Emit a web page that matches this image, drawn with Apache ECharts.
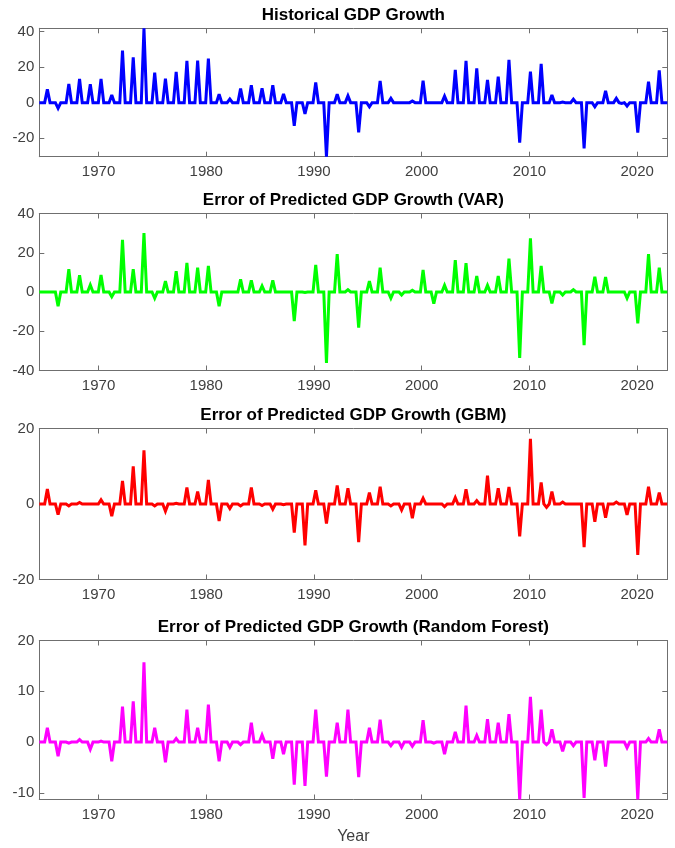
<!DOCTYPE html>
<html>
<head>
<meta charset="utf-8">
<title>GDP Growth and Prediction Errors</title>
<script src="https://cdn.jsdelivr.net/npm/echarts@6/dist/echarts.min.js"></script>
<style>
  html, body { margin: 0; padding: 0; background: #ffffff; }
  #chart { width: 675px; height: 848px; }
</style>
</head>
<body>
<div id="chart"></div>
<script>
// Quarterly observations (91-day steps) starting mid-1964.
const startYear = 1964.5;
const stepYears = 91 / 365.25;

const yearTicks = [1970, 1980, 1990, 2000, 2010, 2020];

const panelTitles = [
  'Historical GDP Growth',
  'Error of Predicted GDP Growth (VAR)',
  'Error of Predicted GDP Growth (GBM)',
  'Error of Predicted GDP Growth (Random Forest)'
];

// Historical GDP growth, one row per five years (four quarters each).
const gdpHistorical = [
  0, 0, 0,
  7.5, 0, 0, 0,   -3.2, 0, 0, 0,   10.5, 0, 0, 0,   13.3, 0, 0, 0,   10.3, 0, 0, 0,
  13.3, 0, 0, 0,  4.3, 0, 0, 0,    29.3, 0, 0, 0,   25.5, 0, 0, 0,   41.8, 0, 0, 0,
  16.9, 0, 0, 0,  13.5, 0, 0, 0,   17.3, 0, 0, 0,   23.5, 0, 0, 0,   23.7, 0, 0, 0,
  24.8, 0, 0, 0,  4.7, 0, 0, 0,    2.0, 0, 0, 0,    7.9, 0, 0, 0,    9.8, 0, 0, 0,
  8.1, 0, 0, 0,   9.8, 0, 0, 0,    4.9, 0, 0, 0,    -13.0, 0, 0, 0,  -6.4, 0, 0, 0,
  11.3, 0, 0, 0,  -30.4, 0, 0, 0,  4.7, 0, 0, 0,    3.8, 0, 0, 0,    -16.7, 0, 0, 0,
  -2.3, 0, 0, 0,  12.2, 0, 0, 0,   2.4, 0, 0, 0,    0, 0, 0, 0,      0.9, 0, 0, 0,
  12.4, 0, 0, 0,  0, 0, 0, 0,      3.6, 0, 0, 0,    18.4, 0, 0, 0,   23.5, 0, 0, 0,
  19.3, 0, 0, 0,  12.8, 0, 0, 0,   14.6, 0, 0, 0,   24.0, 0, 0, 0,   -22.5, 0, 0, 0,
  17.5, 0, 0, 0,  21.8, 0, 0, 0,   4.3, 0, 0, 0,    0.3, 0, 0, 0,    1.9, 0, 0, 0,
  -25.7, 0, 0, 0, -2.3, 0, 0, 0,   6.6, 0, 0, 0,    2.4, 0, -0.5, 0, -1.9, 0, 0, 0,
  -16.9, 0, 0, 0, 11.8, 0, 0, 0,   18.2, 0, 0, 0
];

// Prediction error, VAR model.
const errorVAR = [
  0, 0, 0,
  0, 0, 0, 0,     -7.2, 0, 0, 0,   11.6, 0, 0, 0,   8.5, 0, 0, 0,    3.6, 0, 0, 0,
  8.7, 0, 0, 0,   -2.4, 0, 0, 0,   26.6, 0, 0, 0,   11.6, 0, 0, 0,   30.0, 0, 0, 0,
  -3.2, 0, 0, 0,  5.5, 0, 0, 0,    10.6, 0, 0, 0,   14.8, 0, 0, 0,   12.4, 0, 0, 0,
  13.3, 0, 0, 0,  -7.2, 0, 0, 0,   0, 0, 0, 0,      6.5, 0, 0, 0,    6.0, 0, 0, 0,
  3.1, 0, 0, 0,   6.0, 0, 0, 0,    0, 0, 0, 0,      -14.8, 0, 0, 0,  -0.3, 0, 0, 0,
  13.8, 0, 0, 0,  -36.1, 0, 0, 0,  19.3, 0, 0, 0,   1.2, 0, 0, 0,    -18.2, 0, 0, 0,
  5.6, 0, 0, 0,   12.4, 0, 0, 0,   -3.2, 0, 0, 0,   -1.5, 0, 0, 0,   0.9, 0, 0, 0,
  11.2, 0, 0, 0,  -6.0, 0, 0, 0,   3.4, 0, 0, 0,    16.2, 0, 0, 0,   14.7, 0, 0, 0,
  8.2, 0, 0, 0,   3.4, 0, 0, 0,    8.2, 0, 0, 0,    17.0, 0, 0, 0,   -33.6, 0, 0, 0,
  27.4, 0, 0, 0,  13.3, 0, 0, 0,   -5.8, 0, 0, 0,   -1.5, 0, 0, 0,   1.2, 0, 0, 0,
  -27.1, 0, 0, 0, 7.8, 0, 0, 0,    7.7, 0, 0, 0,    0, 0, 0, 0,      -3.2, 0, 0, 0,
  -16.0, 0, 0, 0, 19.3, 0, 0, 0,   12.4, 0, 0, 0
];

// Prediction error, gradient boosting model.
const errorGBM = [
  0, 0, 0,
  4.0, 0, 0, 0,   -2.8, 0, 0, 0,   -0.5, 0, 0, 0,   0.4, 0, 0, 0,    0, 0, 0, 0,
  1.1, 0, 0, 0,   -3.2, 0, 0, 0,   6.1, 0, 0, 0,    10.0, 0, 0, 0,   14.2, 0, 0, 0,
  -0.5, 0, 0, 0,  -1.9, 0, 0, 0,   0.2, 0, 0, 0,    4.4, 0, 0, 0,    3.3, 0, 0, 0,
  6.4, 0, 0, 0,   -4.5, 0, 0, 0,   -1.2, 0, 0, 0,   -0.5, 0, 0, 0,   4.4, 0, 0, 0,
  -0.4, 0, 0, 0,  -1.4, 0, 0, 0,   -0.2, 0, 0, 0,   -7.6, 0, 0, 0,   -11.0, 0, 0, 0,
  3.6, 0, 0, 0,   -5.2, 0, 0, 0,   4.9, 0, 0, 0,    4.2, 0, 0, 0,    -10.1, 0, 0, 0,
  3.0, 0, 0, 0,   4.6, 0, 0, 0,    -0.5, 0, 0, 0,   -1.6, 0, 0, 0,   -3.8, 0, 0, 0,
  1.5, 0, 0, 0,   0, 0, 0, 0,      -0.7, 0, 0, 0,   1.7, 0, 0, 0,    3.9, 0, 0, 0,
  0.9, 0, 0, 0,   7.5, 0, 0, 0,    4.2, 0, 0, 0,    4.5, 0, 0, 0,    -8.6, 0, 0, 0,
  17.3, 0, 0, 0,  5.7, 0, -0.9, 0, 3.3, 0, 0, 0,    0.5, 0, 0, 0,    0, 0, 0, 0,
  -11.4, 0, 0, 0, -4.7, 0, 0, 0,   -3.6, 0, 0, 0,   0.5, 0, 0, 0,    -2.9, 0, 0, 0,
  -13.5, 0, 0, 0, 4.6, 0, 0, 0,    3.0, 0, 0, 0
];

// Prediction error, random forest model.
const errorRF = [
  0, 0, 0,
  2.8, 0, 0, 0,   -2.8, 0, 0, 0,   -0.2, 0, 0, 0,   0.5, 0, 0, 0,    -1.4, 0, 0, 0,
  0.2, 0, 0, 0,   -3.8, 0, 0, 0,   7.0, 0, 0, 0,    8.0, 0, 0, 0,    15.7, 0, 0, 0,
  2.8, 0, 0, 0,   -4.0, 0, 0, 0,   0.7, 0, 0, 0,    6.4, 0, 0, 0,    2.8, 0, 0, 0,
  7.4, 0, 0, 0,   -3.8, 0, 0, 0,   -1.0, 0, 0, 0,   -0.5, 0, 0, 0,   3.8, 0, 0, 0,
  1.4, 0, 0, 0,   -3.3, 0, 0, 0,   -2.4, 0, 0, 0,   -8.4, 0, 0, 0,   -8.6, 0, 0, 0,
  6.4, 0, 0, 0,   -6.8, 0, 0, 0,   3.8, 0, 0, 0,    6.4, 0, 0, 0,    -6.9, 0, 0, 0,
  2.8, 0, 0, 0,   4.4, 0, 0, 0,    -0.7, 0, 0, 0,   -1.0, 0, 0, 0,   -0.8, 0, 0, 0,
  4.3, 0, 0, 0,   -0.2, 0, 0, 0,   -2.4, 0, 0, 0,   2.0, 0, 0, 0,    7.2, 0, 0, 0,
  1.3, 0, 0, 0,   4.5, 0, 0, 0,    3.8, 0, 0, 0,    5.5, 0, 0, 0,    -11.3, 0, 0, 0,
  8.9, 0, 0, 0,   6.4, 0, -0.5, 0, 2.5, 0, 0, 0,    -1.8, 0, 0, 0,   -0.7, 0, 0, 0,
  -11.0, 0, 0, 0, -3.6, 0, 0, 0,   -4.8, 0, 0, 0,   0, 0, 0, 0,      -1.1, 0, 0, 0,
  -11.3, 0, 0, 0, 0.7, 0, 0, 0,    2.5, 0, 0, 0
];

const seriesValues = [gdpHistorical, errorVAR, errorGBM, errorRF];
const seriesColors = ['#0000ff', '#00ff00', '#ff0000', '#ff00ff'];

const yRanges = [[-30.4, 41.8], [-40, 40], [-20, 20], [-11.3, 20]];
const yTickValues = [[-20, 0, 20, 40], [-40, -20, 0, 20, 40], [-20, 0, 20], [-10, 0, 10, 20]];

const panelBoxes = [
  { top: 28.3, height: 128.4 },
  { top: 213.5, height: 157 },
  { top: 428.5, height: 151 },
  { top: 640.5, height: 159 }
];
const plotLeft = 39.3;
const plotWidth = 628;

const quarterCount = gdpHistorical.length;
const xMin = startYear;
const xMax = startYear + (quarterCount - 1) * stepYears;

const fontFamily = '"Liberation Sans", Arial, Helvetica, sans-serif';
const frameColor = '#6f6f6f';
const labelColor = '#404040';

const grids = [];
const xAxes = [];
const yAxes = [];
const series = [];
const graphics = [];

panelBoxes.forEach((box, i) => {
  grids.push({ left: plotLeft, top: box.top, width: plotWidth, height: box.height, containLabel: false });

  const baseX = {
    type: 'value', gridIndex: i, min: xMin, max: xMax,
    splitLine: { show: false },
    axisLine: { show: true, onZero: false, lineStyle: { color: frameColor, width: 1 } },
    axisTick: { show: true, inside: true, length: 5, customValues: yearTicks, lineStyle: { color: frameColor } }
  };
  xAxes.push(Object.assign({}, baseX, {
    position: 'bottom',
    axisLabel: {
      show: true, customValues: yearTicks, color: labelColor, fontSize: 15,
      fontFamily: fontFamily, margin: 8, formatter: v => String(Math.round(v))
    },
    name: i === panelBoxes.length - 1 ? 'Year' : '',
    nameLocation: 'middle', nameGap: 29,
    nameTextStyle: { color: labelColor, fontSize: 16, fontFamily: fontFamily }
  }));
  xAxes.push(Object.assign({}, baseX, { position: 'top', axisLabel: { show: false } }));

  const baseY = {
    type: 'value', gridIndex: i, min: yRanges[i][0], max: yRanges[i][1],
    splitLine: { show: false },
    axisLine: { show: true, onZero: false, lineStyle: { color: frameColor, width: 1 } },
    axisTick: { show: true, inside: true, length: 5, customValues: yTickValues[i], lineStyle: { color: frameColor } }
  };
  yAxes.push(Object.assign({}, baseY, {
    position: 'left',
    axisLabel: {
      show: true, customValues: yTickValues[i], color: labelColor, fontSize: 15,
      fontFamily: fontFamily, margin: 5
    }
  }));
  yAxes.push(Object.assign({}, baseY, { position: 'right', axisLabel: { show: false } }));

  const values = seriesValues[i];
  series.push({
    type: 'line',
    xAxisIndex: 2 * i,
    yAxisIndex: 2 * i,
    data: values.map((v, k) => [startYear + k * stepYears, v]),
    showSymbol: false,
    symbol: 'none',
    clip: true,
    lineStyle: { color: seriesColors[i], width: 3, join: 'miter', miterLimit: 3 },
    itemStyle: { color: seriesColors[i] },
    animation: false
  });

  graphics.push({
    type: 'text',
    x: plotLeft + plotWidth / 2,
    y: box.top - 13,
    style: {
      text: panelTitles[i],
      align: 'center',
      verticalAlign: 'middle',
      fontSize: 17,
      fontWeight: 'bold',
      fontFamily: fontFamily,
      fill: '#000000'
    }
  });
});

const chart = echarts.init(document.getElementById('chart'), null, { renderer: 'canvas' });
chart.setOption({
  backgroundColor: '#ffffff',
  animation: false,
  grid: grids,
  xAxis: xAxes,
  yAxis: yAxes,
  series: series,
  graphic: graphics
});
</script>
</body>
</html>
